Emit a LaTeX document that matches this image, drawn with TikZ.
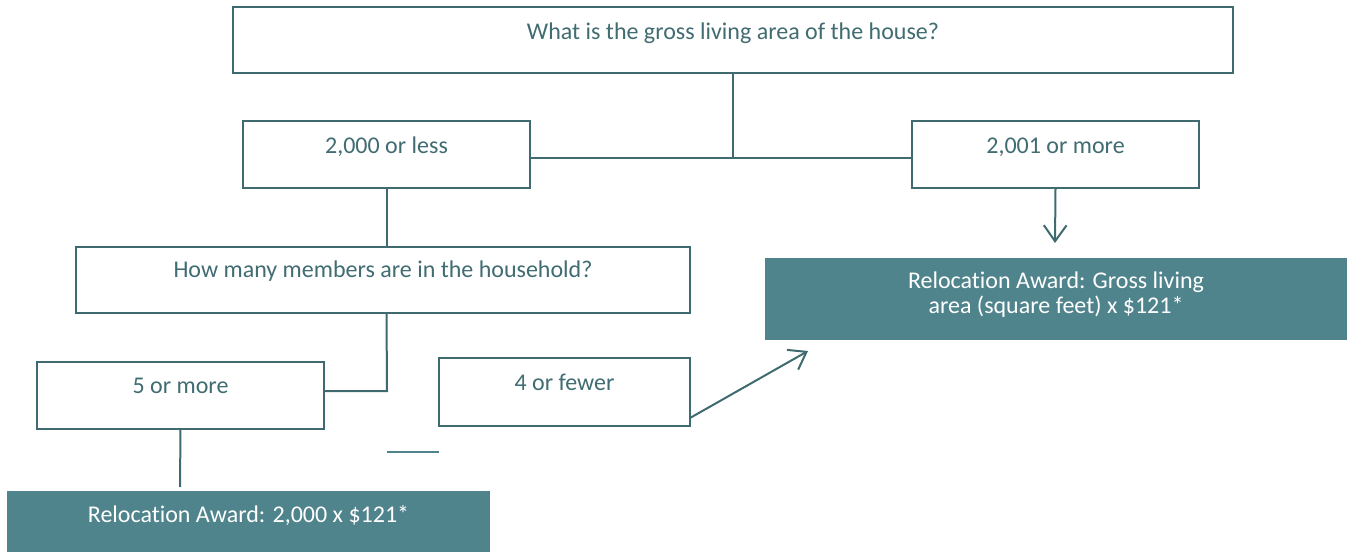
\documentclass[tikz,border=0pt]{standalone}
\usepackage{fontspec}
\setmainfont{Carlito}[Ligatures=NoCommon]
\usetikzlibrary{arrows.meta,calc}
\definecolor{tealline}{RGB}{62,106,112}
\definecolor{tealfill}{RGB}{80,132,140}
\definecolor{tealtext}{RGB}{64,108,114}
\begin{document}
\begin{tikzpicture}[x=0.75pt,y=-0.75pt,
  every node/.style={inner sep=0pt,outer sep=0pt,font=\fontsize{18}{18.75}\selectfont},
  qbox/.style={draw=tealline,line width=1.5pt,fill=white,text=tealtext},
  abox/.style={fill=tealfill,text=white},
  conn/.style={draw=tealline,line width=1.5pt},
  arr/.style={conn,-{Straight Barb[length=12pt,width=17pt,line width=1.5pt]}}
]
\useasboundingbox (0,0) rectangle (1348,552);
% boxes: text height / depth place the baseline
\node[qbox,anchor=north west,minimum width=1000*0.75pt,text height=33*0.75pt,text depth=33*0.75pt] (q1) at (233,7) {What is the gross living area of the house?};
\node[qbox,anchor=north west,minimum width=287*0.75pt,text height=33*0.75pt,text depth=34*0.75pt] (less) at (243,121) {2,000 or less};
\node[qbox,anchor=north west,minimum width=287*0.75pt,text height=33*0.75pt,text depth=34*0.75pt] (more) at (912,121) {2,001 or more};
\node[qbox,anchor=north west,minimum width=614*0.75pt,text height=30*0.75pt,text depth=36*0.75pt] (members) at (76,247) {How many members are in the household?};
\node[qbox,anchor=north west,minimum width=287*0.75pt,text height=31*0.75pt,text depth=36*0.75pt] (five) at (37,362) {5 or more};
\node[qbox,anchor=north west,minimum width=251*0.75pt,text height=32*0.75pt,text depth=36*0.75pt] (four) at (439,358) {4 or fewer};
\node[abox,anchor=north west,minimum width=582*0.75pt,minimum height=82*0.75pt] (awardR) at (765,258) {};
\node[text=white,align=center,anchor=north] (awardRtxt) at (1056,272) {Relocation Award: Gross living\\area (square feet) x \$121*};
\node[abox,anchor=north west,minimum width=483*0.75pt,text height=31*0.75pt,text depth=30*0.75pt] (awardL) at (7,491) {Relocation Award: 2,000 x \$121*};
% junction coordinates
\coordinate (j) at (733,158);
\coordinate (k) at (387,391);
\coordinate (moreEnd) at (1055,243);
\coordinate (fourStart) at (690,418);
\coordinate (fourEnd) at (808,351);
\coordinate (fiveEnd) at (180,487);
\coordinate (s1) at (387,452);
\coordinate (s2) at (439,452);
% connectors
\draw[conn] (q1.south) -- (j);
\draw[conn] (less.east |- j) -- (more.west |- j);
\draw[arr] (more.south) -- (moreEnd);
\draw[conn] (less.south) -- (less.south |- members.north);
\draw[conn] (less.south |- members.south) -- (k) -- (five.east |- k);
\draw[arr] (fourStart) -- (fourEnd);
\draw[conn] (five.south) -- (fiveEnd);
\draw[draw=tealfill,line width=1.5pt] (s1) -- (s2);
\end{tikzpicture}
\end{document}
